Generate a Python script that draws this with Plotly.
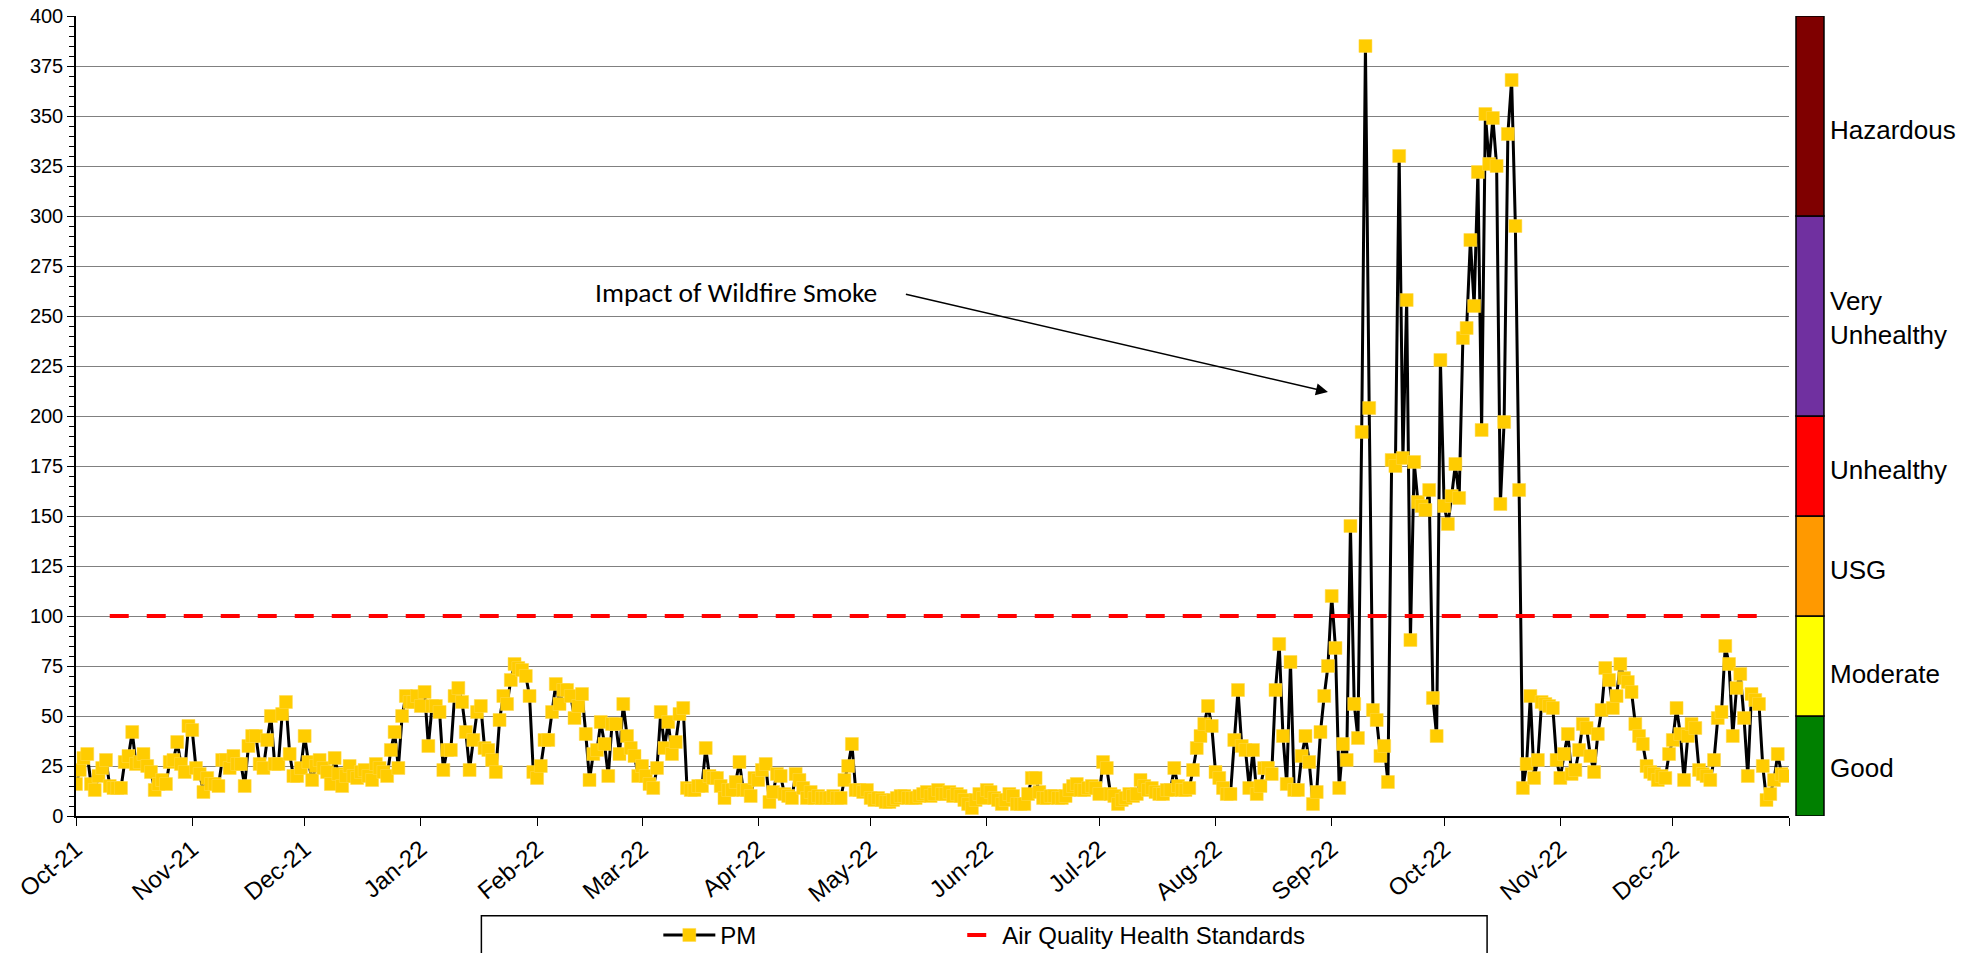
import pandas as pd
import plotly.graph_objects as go

# ---------------- data (daily PM, Oct 2021 - Dec 2022) ----------------
pm_2021_10 = [16, 23, 29, 31, 16, 13, 20, 24, 28, 15, 14, 14, 14, 27, 30, 42, 26, 27, 31, 25, 22, 13, 16, 18, 16, 27, 28, 37, 26, 22, 45]
pm_2021_11 = [43, 24, 21, 12, 19, 16, 16, 15, 28, 28, 24, 30, 26, 26, 15, 35, 40, 40, 26, 24, 38, 50, 26, 26, 51, 57, 31, 20, 20, 24]
pm_2021_12 = [40, 27, 18, 25, 28, 24, 22, 16, 29, 21, 15, 20, 25, 20, 19, 22, 23, 20, 18, 26, 24, 22, 20, 33, 42, 24, 50, 60, 57, 57, 60]
pm_2022_01 = [55, 62, 35, 55, 55, 52, 23, 33, 33, 60, 64, 57, 42, 23, 38, 52, 55, 34, 33, 28, 22, 48, 60, 56, 68, 76, 74, 73, 70, 60, 22]
pm_2022_02 = [19, 25, 38, 38, 52, 66, 56, 63, 63, 60, 49, 55, 61, 41, 18, 31, 33, 47, 36, 20, 46, 46, 31, 56, 40, 34, 30, 20]
pm_2022_03 = [25, 20, 16, 14, 24, 52, 34, 47, 31, 37, 51, 54, 14, 13, 13, 15, 15, 34, 20, 19, 19, 15, 9, 13, 13, 17, 27, 13, 13, 10, 19]
pm_2022_04 = [18, 23, 26, 7, 12, 21, 20, 11, 10, 9, 21, 18, 14, 9, 12, 9, 10, 9, 9, 9, 10, 9, 9, 18, 25, 36, 13, 13, 12, 13]
pm_2022_05 = [9, 8, 9, 8, 7, 7, 8, 9, 10, 10, 9, 9, 9, 10, 11, 12, 10, 11, 13, 11, 11, 12, 10, 11, 10, 8, 6, 4, 8, 11, 9]
pm_2022_06 = [13, 12, 9, 8, 6, 8, 11, 10, 6, 6, 6, 11, 19, 19, 12, 9, 9, 10, 10, 9, 9, 10, 13, 15, 16, 13, 13, 14, 15, 14]
pm_2022_07 = [11, 27, 24, 11, 10, 6, 8, 9, 11, 10, 11, 18, 15, 13, 14, 12, 11, 11, 13, 13, 24, 15, 13, 13, 14, 23, 34, 40, 46, 55, 45]
pm_2022_08 = [22, 19, 14, 11, 11, 38, 63, 35, 33, 14, 33, 11, 15, 24, 24, 21, 63, 86, 40, 16, 77, 13, 13, 30, 40, 27, 6, 12, 42, 60, 75]
pm_2022_09 = [110, 84, 14, 36, 28, 145, 56, 39, 192, 385, 204, 53, 48, 30, 35, 17, 178, 175, 330, 179, 258, 88, 177, 157, 155, 153, 163, 59, 40, 228]
pm_2022_10 = [155, 146, 160, 176, 159, 239, 244, 288, 255, 322, 193, 351, 326, 349, 325, 156, 197, 341, 368, 295, 163, 14, 26, 60, 19, 28, 57, 56, 55, 54, 28]
pm_2022_11 = [19, 31, 41, 21, 23, 33, 46, 44, 30, 22, 41, 53, 74, 68, 54, 60, 76, 69, 67, 62, 46, 40, 36, 25, 22, 21, 18, 20, 19, 31]
pm_2022_12 = [38, 54, 41, 18, 40, 46, 44, 23, 21, 20, 18, 28, 49, 52, 85, 76, 40, 64, 71, 49, 20, 61, 58, 56, 25, 8, 11, 18, 31, 21, 20]

pm_values = (pm_2021_10 + pm_2021_11 + pm_2021_12 + pm_2022_01 + pm_2022_02 + pm_2022_03 +
             pm_2022_04 + pm_2022_05 + pm_2022_06 + pm_2022_07 + pm_2022_08 + pm_2022_09 +
             pm_2022_10 + pm_2022_11 + pm_2022_12)
pm_dates = pd.date_range("2021-10-01", periods=len(pm_values), freq="D")

aqhs_dates = ["2021-10-10", "2022-12-28"]
aqhs_values = [100, 100]

tick_dates = pd.date_range("2021-10-01", "2023-01-01", freq="MS")
tick_labels = [d.strftime("%b-%y") for d in tick_dates[:-1]] + [""]

band_names = ["Good", "Moderate", "USG", "Unhealthy", "Very<br>Unhealthy", "Hazardous"]
band_edges = [0, 50, 100, 150, 200, 300, 400]
band_colors = ["#008000", "#FFFF00", "#FF9900", "#FF0000", "#7030A0", "#7F0000"]
band_label_levels = [24, 71, 123, 173, 249, 343]

annotation_text = "Impact of Wildfire Smoke"

# ---------------- layout geometry (screen pixels) ----------------
W, H = 1980, 953
PL, PR, PT, PB = 75.5, 1789.0, 16.0, 815.7  # plot area


def px_x(sx):
    return (sx - PL) / (PR - PL)


def px_y(sy):
    return (PB - sy) / (PB - PT)


AX = "Arial, 'Liberation Sans', sans-serif"

fig = go.Figure()
fig.add_trace(go.Scatter(
    x=pm_dates, y=pm_values, mode="lines+markers", name="PM",
    line=dict(color="black", width=3),
    marker=dict(symbol="square", size=13, color="#FFCC00",
                line=dict(color="#FFD84D", width=0.5)),
    legend="legend",
))
fig.add_trace(go.Scatter(
    x=aqhs_dates, y=aqhs_values, mode="lines", name="Air Quality Health Standards",
    line=dict(color="#FF0000", width=4, dash="19px,18px"),
    legend="legend2",
))

shapes = []
annotations = []
for i, name in enumerate(band_names):
    shapes.append(dict(type="rect", xref="paper", yref="y",
                       x0=px_x(1796), x1=px_x(1824),
                       y0=band_edges[i], y1=band_edges[i + 1],
                       fillcolor=band_colors[i], line=dict(color="black", width=1.5),
                       layer="above"))
    annotations.append(dict(xref="paper", yref="y", x=px_x(1828), xanchor="left",
                            y=band_label_levels[i], yanchor="middle",
                            text=name, showarrow=False, align="left",
                            font=dict(family=AX, size=26, color="black")))

# legend box
shapes.append(dict(type="rect", xref="paper", yref="paper",
                   x0=px_x(481), x1=px_x(1487), y0=px_y(990), y1=px_y(915.5),
                   line=dict(color="black", width=1.5), fillcolor="white", layer="below"))

# wildfire annotation
annotations.append(dict(xref="x", yref="y", x="2022-02-16", y=262, xanchor="left",
                        yanchor="middle", text=annotation_text, showarrow=False,
                        font=dict(family="Carlito, Lato, sans-serif", size=27.5, color="black")))
annotations.append(dict(xref="x", yref="y", x="2022-08-31", y=212,
                        axref="x", ayref="y", ax="2022-05-10", ay=261,
                        text="", showarrow=True, arrowhead=2, arrowsize=1.6,
                        arrowwidth=1.5, arrowcolor="black"))

fig.update_layout(
    width=W, height=H,
    margin=dict(l=PL, r=W - PR, t=PT, b=H - PB, pad=0, autoexpand=False),
    paper_bgcolor="white", plot_bgcolor="white",
    font=dict(family=AX, color="black"),
    showlegend=True,
    legend=dict(orientation="h", x=px_x(658), xanchor="left", y=px_y(935), yanchor="middle",
                font=dict(family=AX, size=24), bgcolor="rgba(0,0,0,0)", itemwidth=52),
    legend2=dict(orientation="h", x=px_x(962), xanchor="left", y=px_y(935), yanchor="middle",
                 font=dict(family=AX, size=24), bgcolor="rgba(0,0,0,0)", itemwidth=30),
    shapes=shapes, annotations=annotations,
    xaxis=dict(type="date", range=["2021-10-01", "2023-01-01"],
               tickvals=list(tick_dates), ticktext=tick_labels, tickangle=-40,
               tickfont=dict(family=AX, size=24), ticks="outside", ticklen=8,
               tickcolor="black", showgrid=False, showline=True, linecolor="black",
               linewidth=1.5, zeroline=False, ticklabeloverflow="allow"),
    yaxis=dict(range=[0, 400], dtick=25, tick0=0, tickfont=dict(family=AX, size=20),
               ticks="outside", ticklen=7, tickcolor="black", showgrid=True,
               gridcolor="#808080", gridwidth=1, showline=True, linecolor="black",
               linewidth=1.5, zeroline=False, ticklabeloverflow="allow",
               minor=dict(dtick=5, ticks="outside", ticklen=5, tickcolor="black", showgrid=False)),
)

fig.write_html("out.html",
               config={"displayModeBar": False},
               post_script="document.body.style.margin='0';document.body.style.overflow='hidden';")
